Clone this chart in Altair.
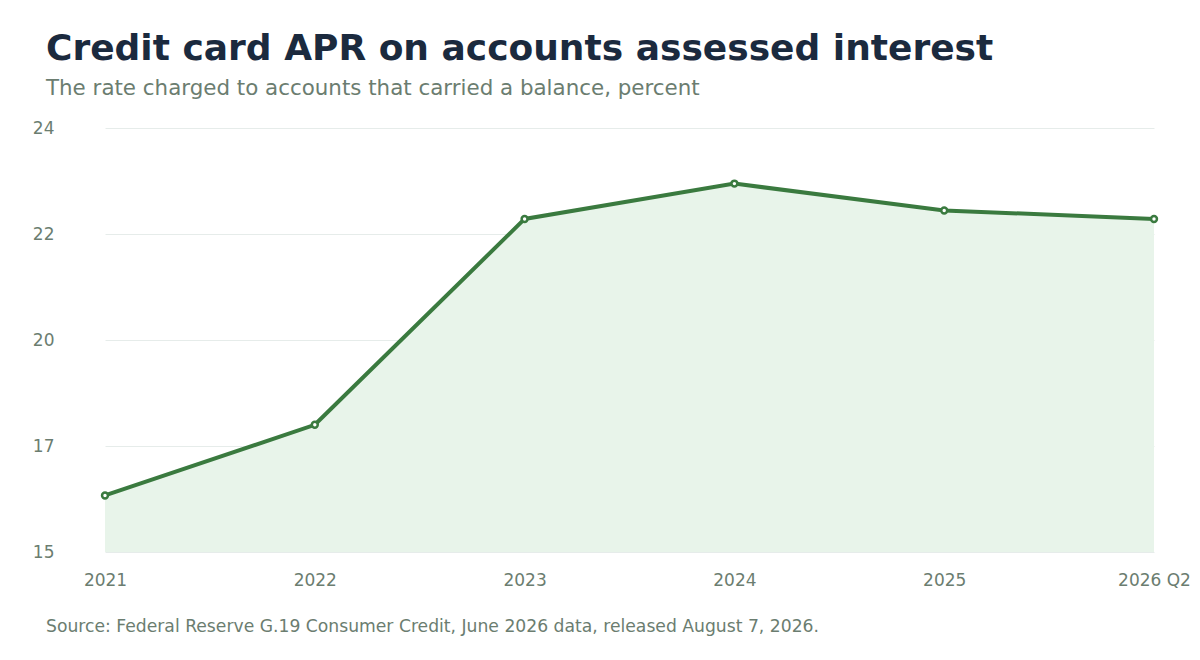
import pandas as pd
import altair as alt

# values
PERIODS = ["2021", "2022", "2023", "2024", "2025", "2026 Q2"]
APR = [16.2, 17.7, 22.07, 22.82, 22.25, 22.07]
Y_TICKS = [15, 17.25, 19.5, 21.75, 24]

TITLE = "Credit card APR on accounts assessed interest"
SUBTITLE = "The rate charged to accounts that carried a balance, percent"
SOURCE = "Source: Federal Reserve G.19 Consumer Credit, June 2026 data, released August 7, 2026."

FONT = "DejaVu Sans"
GREEN = "#3a7a3f"
FILL = "#e8f4ea"
MUTED = "#6b7d70"
DARK = "#1b2a3e"


def build_chart():
    df = pd.DataFrame({"period": PERIODS, "apr": APR})

    x = alt.X(
        "period:N",
        sort=PERIODS,
        scale=alt.Scale(type="point", padding=0),
        axis=alt.Axis(
            title=None, labelAngle=0, ticks=False, domain=False, grid=False,
            labelPadding=20, labelFontSize=17, labelColor=MUTED, labelFont=FONT,
        ),
    )
    y = alt.Y(
        "apr:Q",
        scale=alt.Scale(domain=[15, 24], zero=False, nice=False),
        axis=alt.Axis(
            title=None, values=Y_TICKS, format=".0f", ticks=False, domain=False,
            grid=True, gridColor="#e6ecea", gridWidth=1,
            labelPadding=51, labelFontSize=17, labelColor=MUTED, labelFont=FONT,
        ),
    )

    base = alt.Chart(df)
    area = base.mark_area(color=FILL, opacity=1).encode(x=x, y=y, y2=alt.datum(15))
    line = base.mark_line(color=GREEN, strokeWidth=4).encode(x=x, y=y)
    points = base.mark_point(
        filled=True, fill="white", stroke=GREEN, strokeWidth=2.5, size=35, opacity=1
    ).encode(x=x, y=y)

    source = alt.Chart(pd.DataFrame({"t": [SOURCE]})).mark_text(
        align="left", baseline="middle", fontSize=17.2, font=FONT, color=MUTED
    ).encode(x=alt.value(-59), y=alt.value(499), text="t:N")

    chart = alt.layer(area, line, points, source).properties(
        width=1049,
        height=424,
        autosize=alt.AutoSizeParams(type="none"),
        padding={"left": 97, "top": 120, "right": 38, "bottom": 100},
        title=alt.TitleParams(
            text=TITLE, subtitle=SUBTITLE, anchor="start", frame="group",
            dx=-59, offset=19,
            font=FONT, fontSize=36, fontWeight="bold", color=DARK,
            subtitleFont=FONT, subtitleFontSize=21.4, subtitleColor=MUTED,
            subtitlePadding=10,
        ),
    ).configure_view(strokeWidth=0)
    return chart


if __name__ == "__main__":
    build_chart().save("out.html", embed_options={"renderer": "svg", "actions": False})
